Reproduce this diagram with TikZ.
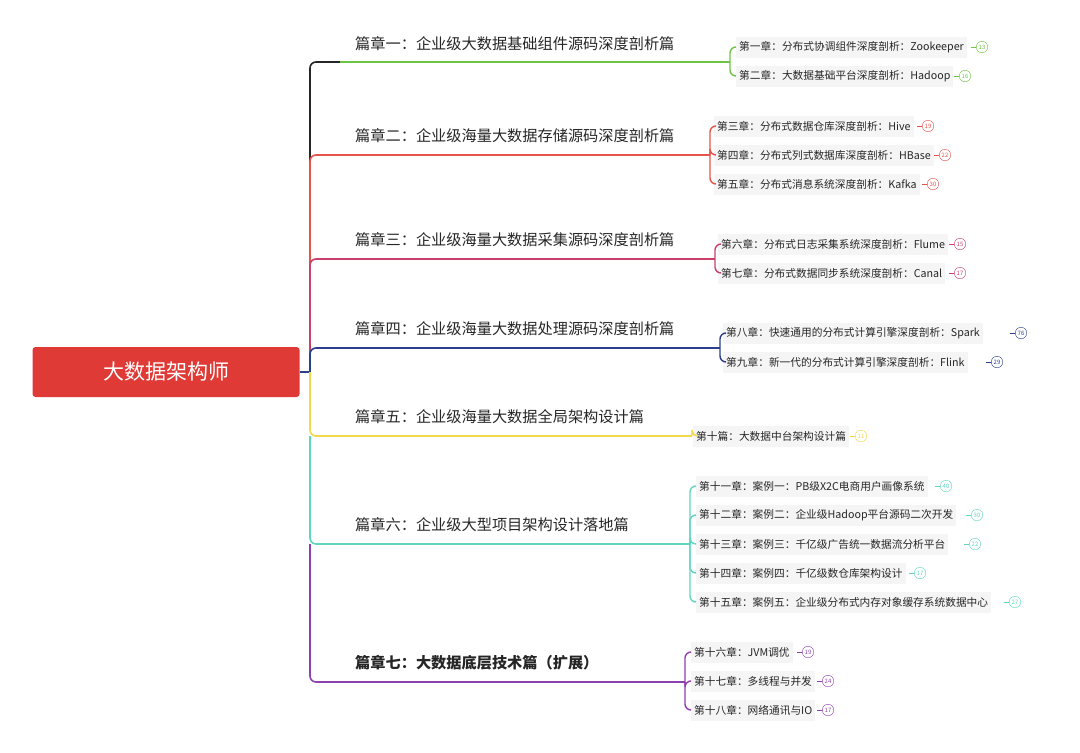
\documentclass[tikz,border=0pt]{standalone}
\usepackage{fontspec}
\setmainfont{Noto Sans CJK SC}
\begin{document}
\begin{tikzpicture}[x=1pt,y=-1pt,
  root/.style={fill=rootred,text=white,rounded corners=3pt,minimum width=267pt,minimum height=50pt,font=\fontsize{21}{24}\selectfont},
  title/.style={anchor=west,font=\fontsize{15.2}{17}\selectfont,text=black!85,inner sep=0pt},
  child/.style={anchor=west,fill=black!4,font=\fontsize{10.7}{12}\selectfont,text=black!85,inner sep=3pt,minimum height=21pt},
  badge/.style={circle,draw=#1,text=#1,inner sep=0pt,minimum size=11.5pt,font=\fontsize{6}{7}\selectfont},
  br/.style={line width=1.6pt,rounded corners=6pt}]
\definecolor{rootred}{HTML}{E03A36}
\definecolor{cg}{HTML}{6CC644}
\definecolor{cr}{HTML}{E5534B}
\definecolor{cp}{HTML}{C9406A}
\definecolor{cn}{HTML}{2B3F8C}
\definecolor{cy}{HTML}{F2D64B}
\definecolor{ct}{HTML}{5ED6C0}
\definecolor{cv}{HTML}{8E3FB0}
\useasboundingbox (0,0) rectangle (1080,753);
\node[root] (root) at (166,372) {大数据架构师};
\coordinate (j) at (310,372);
\draw[line width=1.6pt,cn] (root.east) -- (j);
% trunk
\draw[br,black!85] (j) -- (310,155) -- (310,62) -- (340,62);
\draw[br,cr] (j) -- (310,155) -- (340,155);
\draw[br,cp] (j) -- (310,259) -- (340,259);
\draw[br,cn] (j) -- (310,348) -- (340,348);
\draw[br,cy] (310,372) -- (310,436) -- (340,436);
\draw[br,ct] (310,436) -- (310,544) -- (340,544);
\draw[br,cv] (310,544) -- (310,682) -- (340,682);

\newcommand{\sect}[8]{%
  \node[title] (#1t) at (355,#4) {#5};
  \coordinate (#1b) at (#6,#3);
  \draw[line width=1.4pt,#2] (340,#3) -- (#1b);
  \foreach \cy/\ct/\bxx/\nn [count=\i] in {#8} {
    \node[child] (#1c\i) at (#7,\cy) {\ct};
    \draw[br,line width=1.4pt,#2] (#1b) -- (#6,\cy) -- ++(6,0);
    \node[badge=#2] (#1n\i) at (\bxx,\cy) {\nn};
    \draw[#2,line width=1pt] (#1n\i.west) -- ++(-5,0);
  }
}
\sect{a}{cg}{62}{44}{篇章一：企业级大数据基础组件源码深度剖析篇}{730}{736}{47/第一章：分布式协调组件深度剖析：Zookeeper/982/13,76/第二章：大数据基础平台深度剖析：Hadoop/965/16}
\sect{b}{cr}{155}{136}{篇章二：企业级海量大数据存储源码深度剖析篇}{710}{714}{126/第三章：分布式数据仓库深度剖析：Hive/928/19,155/第四章：分布式列式数据库深度剖析：HBase/945/22,184/第五章：分布式消息系统深度剖析：Kafka/933/30}
\sect{c}{cp}{259}{240}{篇章三：企业级海量大数据采集源码深度剖析篇}{715}{718}{244/第六章：分布式日志采集系统深度剖析：Flume/960/15,273/第七章：分布式数据同步系统深度剖析：Canal/960/17}
\sect{d}{cn}{348}{329}{篇章四：企业级海量大数据处理源码深度剖析篇}{720}{723}{333/第八章：快速通用的分布式计算引擎深度剖析：Spark/1021/76,362/第九章：新一代的分布式计算引擎深度剖析：Flink/997/29}
\sect{e}{cy}{436}{417}{篇章五：企业级海量大数据全局架构设计篇}{692}{693}{436/第十篇：大数据中台架构设计篇/861/11}
\sect{f}{ct}{544}{525}{篇章六：企业级大型项目架构设计落地篇}{690}{696}{486/第十一章：案例一：PB级X2C电商用户画像系统/946/40,515/第十二章：案例二：企业级Hadoop平台源码二次开发/977/30,544/第十三章：案例三：千亿级广告统一数据流分析平台/975/22,573/第十四章：案例四：千亿级数仓库架构设计/920/17,602/第十五章：案例五：企业级分布式内存对象缓存系统数据中心/1015/27}
\sect{g}{cv}{682}{663}{\bfseries 篇章七：大数据底层技术篇（扩展）}{685}{691}{652/第十六章：JVM调优/808/19,681/第十七章：多线程与并发/828/24,710/第十八章：网络通讯与IO/828/17}
\end{tikzpicture}
\end{document}
